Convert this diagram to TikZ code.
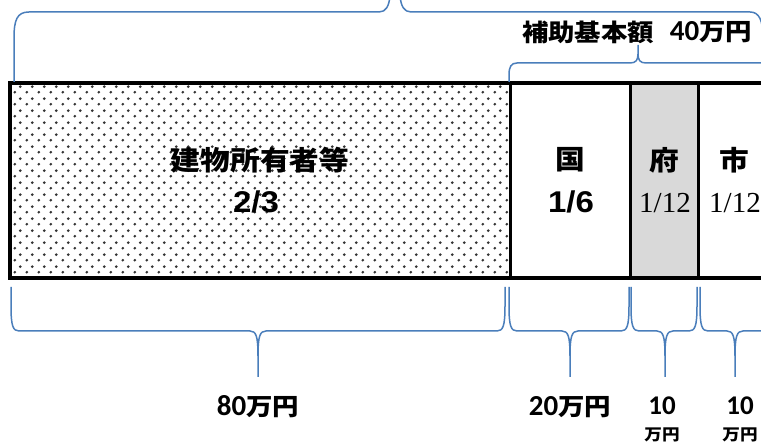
\documentclass[tikz,border=0pt]{standalone}
\usepackage{fontspec}
\usetikzlibrary{patterns}
\newfontfamily\jp{Noto Sans CJK JP}[FakeStretch=1.1]
\newfontfamily\carl{Carlito}
\newfontfamily\arl{Liberation Sans}[FakeStretch=1.1]
\newfontfamily\tms{Liberation Serif}
\definecolor{bracecol}{RGB}{74,126,187}
\definecolor{prefgray}{RGB}{217,217,217}
\pgfdeclarepatternformonly{mydots}{\pgfpointorigin}{\pgfpoint{11.5pt}{12pt}}{\pgfpoint{11.5pt}{12pt}}{%
  \pgfpathcircle{\pgfpoint{2.9pt}{3pt}}{1.55pt}%
  \pgfpathcircle{\pgfpoint{8.65pt}{9pt}}{1.55pt}%
  \pgfusepath{fill}}
\tikzset{
  brc/.style={draw=bracecol, line width=1.5pt, line join=round},
  txt/.style={inner sep=0pt, outer sep=0pt, anchor=center},
}
\newcommand\bbr[3]{%
  \draw[brc] (#1,287) -- (#1,306) .. controls (#1,326) and (#1+2,331) .. (#1+8,331)
    -- (#3-8,331) .. controls (#3-2,331) and (#3,336) .. (#3,356) -- (#3,377);
  \draw[brc] (#3,356) .. controls (#3,336) and (#3+2,331) .. (#3+8,331)
    -- (#2-8,331) .. controls (#2-2,331) and (#2,326) .. (#2,306) -- (#2,287);}
\begin{document}
\begin{tikzpicture}[x=1pt,y=-1pt]
\clip (0,0) rectangle (761,443);
\fill[white] (0,0) rectangle (761,443);
% fills
\fill[pattern=mydots, pattern color=black!80] (10,83) rectangle (510,278);
\fill[prefgray] (630,83) rectangle (698,278);
% box
\draw[line width=3pt] (510,83) -- (510,278);
\draw[line width=3pt] (630,83) -- (630,278);
\draw[line width=3pt] (698,83) -- (698,278);
\draw[line width=4pt] (10,83) rectangle (790,278);
% texts in box
\node[txt] (owner) at (260,160) {{\jp\bfseries\fontsize{27}{27}\selectfont 建物所有者等}};
\node[txt] (ownerfr) at (256,202) {{\arl\bfseries\fontsize{30}{30}\selectfont 2/3}};
\node[txt] (kuni) at (570,160) {{\jp\bfseries\fontsize{27}{27}\selectfont 国}};
\node[txt] (kunifr) at (571,202) {{\arl\bfseries\fontsize{30}{30}\selectfont 1/6}};
\node[txt] (fu) at (664,160) {{\jp\bfseries\fontsize{27}{27}\selectfont 府}};
\node[txt] (fufr) at (665,203) {{\tms\fontsize{29}{29}\selectfont 1/12}};
\node[txt] (shi) at (734,160) {{\jp\bfseries\fontsize{27}{27}\selectfont 市}};
\node[txt] (shifr) at (735,203) {{\tms\fontsize{29}{29}\selectfont 1/12}};
% top braces
\draw[brc] (14,82) -- (14,38) .. controls (14,20) and (17,12) .. (29,12) -- (379,12)
  .. controls (386,12) and (389,6) .. (390,-4);
\draw[brc] (400,-4) .. controls (401,6) and (404,12) .. (411,12) -- (750,12)
  .. controls (759,12) and (763,20) .. (763,38) -- (763,82);
\draw[brc] (509,82) -- (509,75) .. controls (509,67) and (511,63) .. (517,63) -- (630,63)
  .. controls (636,63) and (638,60) .. (638,54) -- (638,45);
\draw[brc] (638,54) .. controls (638,60) and (640,63) .. (646,63) -- (790,63);
\node[txt] (hojo) at (588,32) {{\jp\bfseries\fontsize{24}{24}\selectfont 補助基本額}};
\node[txt] (amt40) at (711,32) {{\carl\bfseries\fontsize{29}{29}\selectfont 40}{\jp\bfseries\fontsize{24}{24}\selectfont 万円}};
% bottom braces
\bbr{11}{505}{258}
\bbr{509}{629}{570}
\bbr{631}{697}{665}
\bbr{700}{770}{735}
\node[txt] (amt80) at (258,407) {{\carl\bfseries\fontsize{29}{29}\selectfont 80}{\jp\bfseries\fontsize{24}{24}\selectfont 万円}};
\node[txt] (amt20) at (570,407) {{\carl\bfseries\fontsize{29}{29}\selectfont 20}{\jp\bfseries\fontsize{24}{24}\selectfont 万円}};
\node[txt] (amt10a) at (662,406) {{\carl\bfseries\fontsize{27}{27}\selectfont 10}};
\node[txt] (yen10a) at (662,435) {{\jp\bfseries\fontsize{16}{16}\selectfont 万円}};
\node[txt] (amt10b) at (740,406) {{\carl\bfseries\fontsize{27}{27}\selectfont 10}};
\node[txt] (yen10b) at (740,435) {{\jp\bfseries\fontsize{16}{16}\selectfont 万円}};
\end{tikzpicture}
\end{document}
